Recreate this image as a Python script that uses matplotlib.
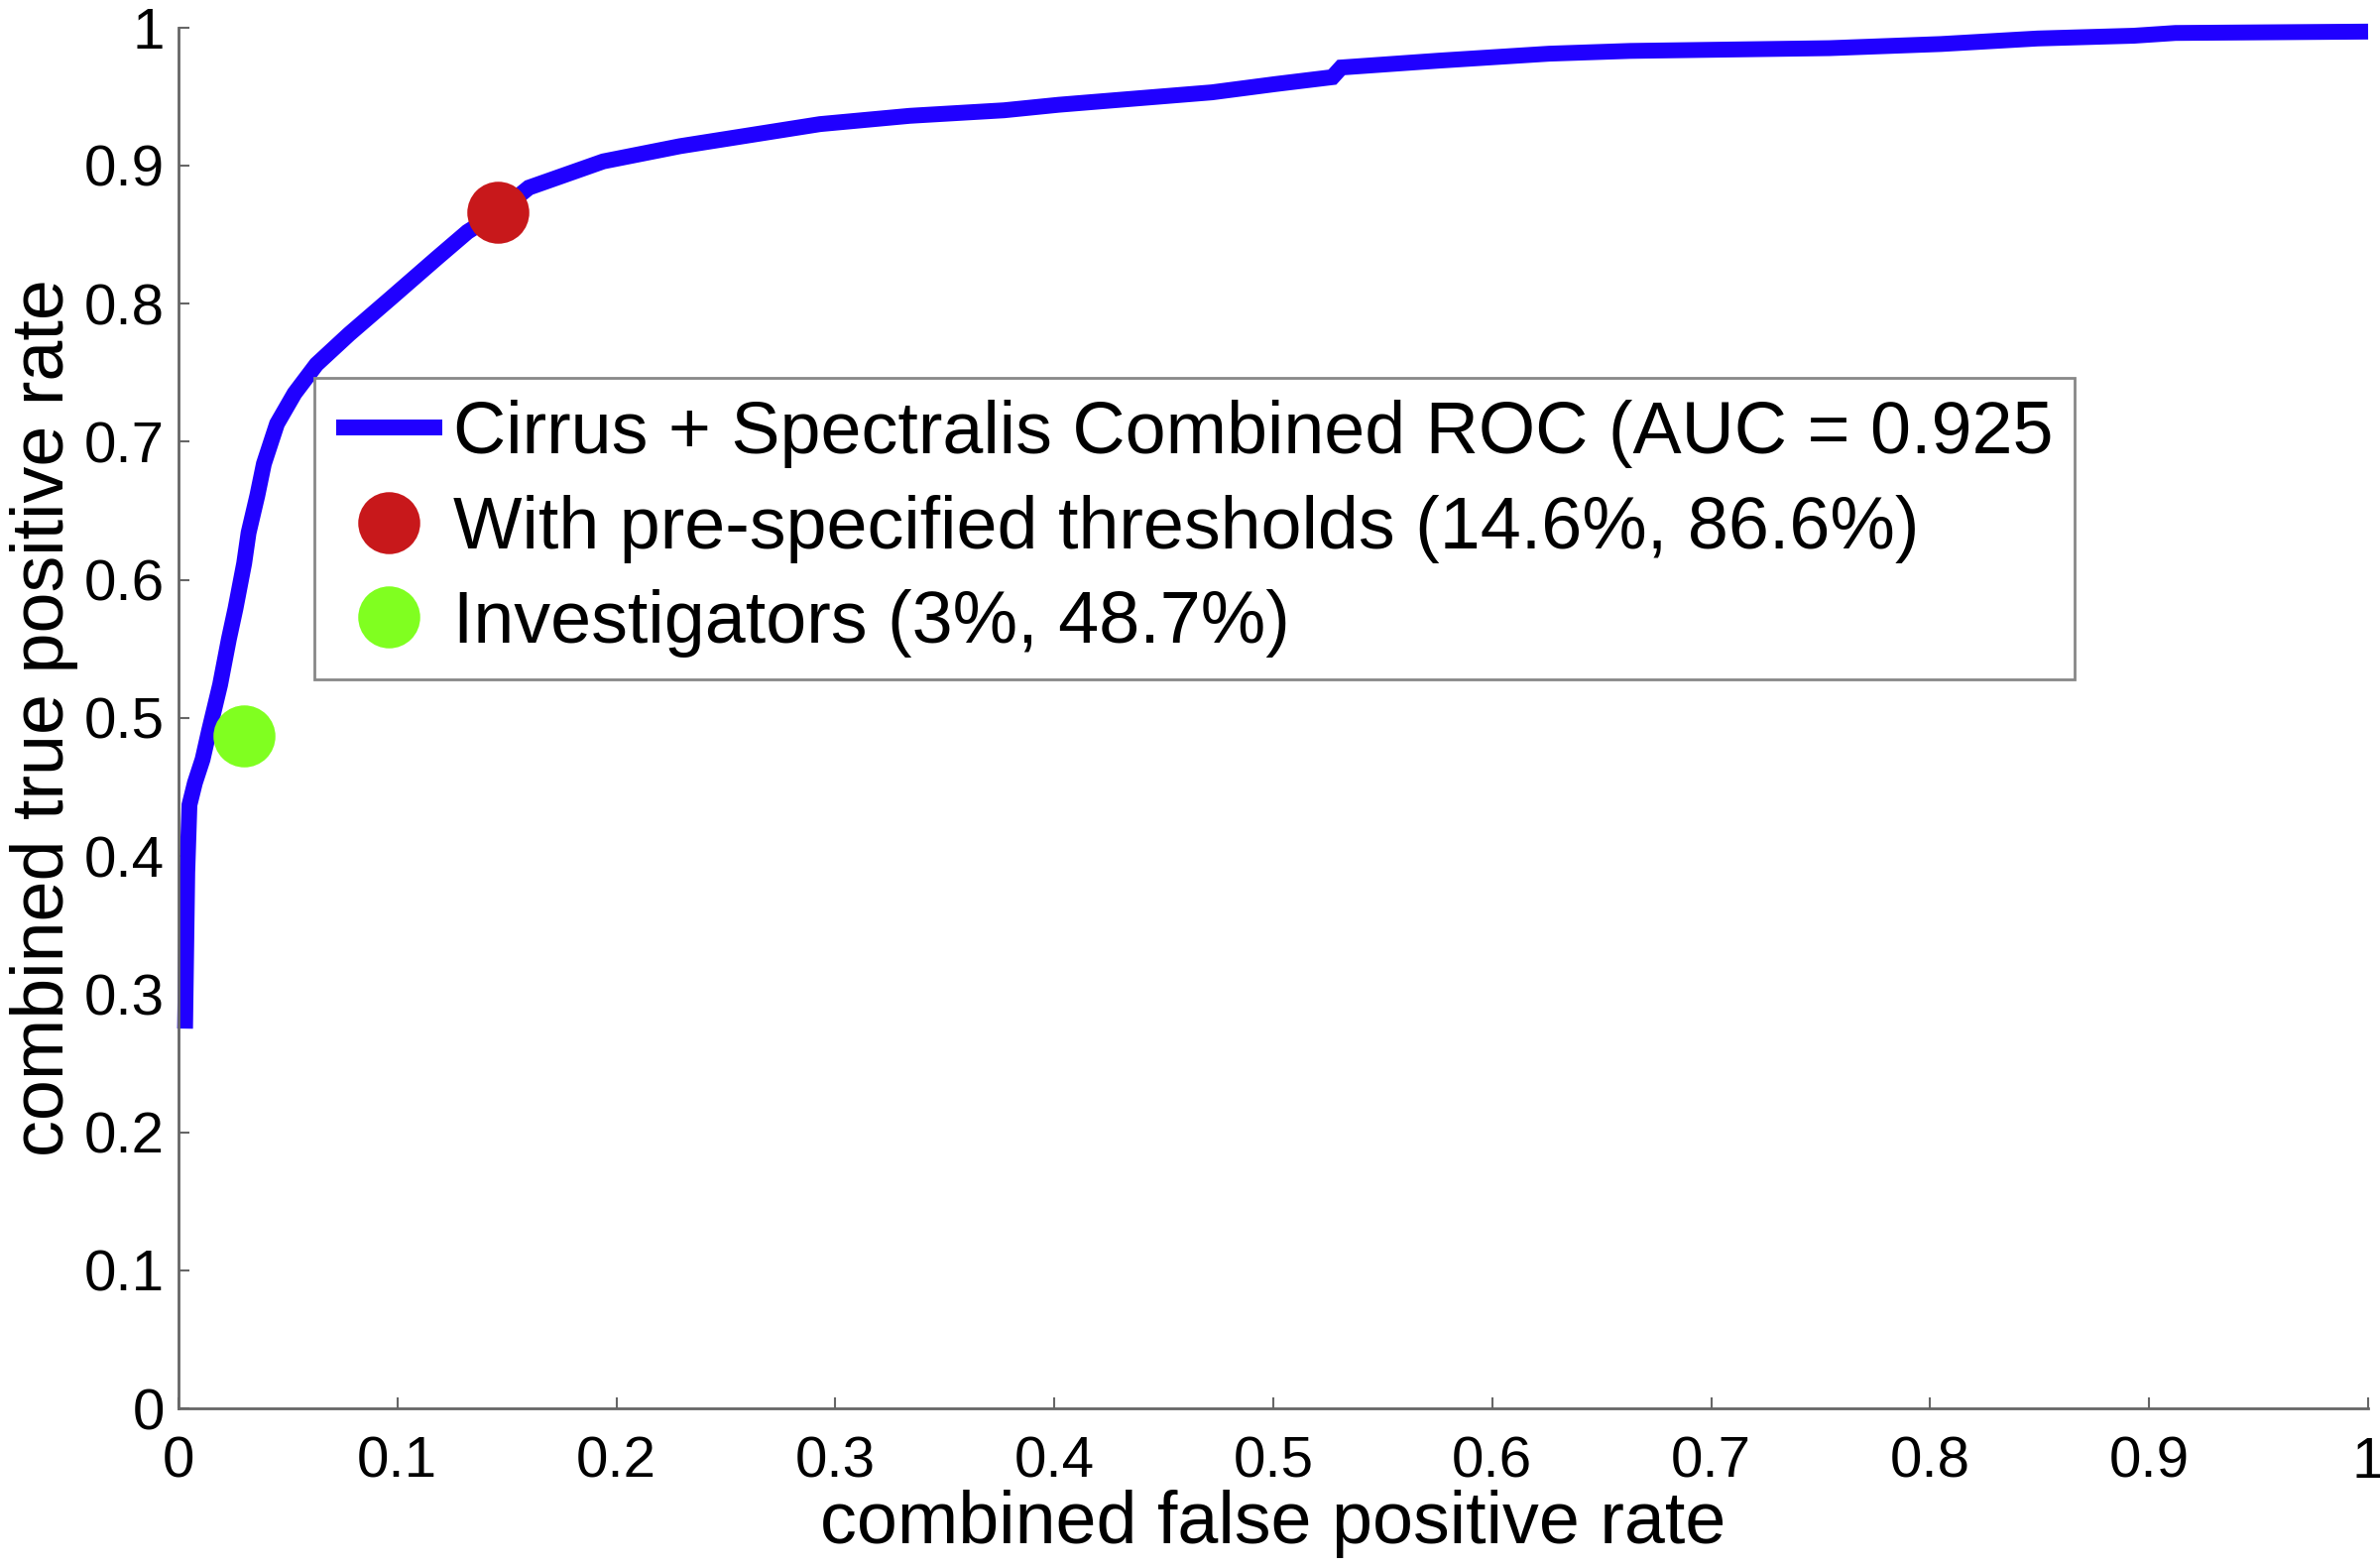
import numpy as np
import matplotlib
matplotlib.use("Agg")
import matplotlib.pyplot as plt

plt.rcParams['font.family'] = ['Liberation Sans', 'DejaVu Sans']

# ROC curve
fpr = [0.003, 0.004, 0.005, 0.0075, 0.011, 0.014, 0.019, 0.023, 0.026, 0.030,
       0.032, 0.036, 0.039, 0.045, 0.053, 0.063, 0.078, 0.097, 0.118, 0.132,
       0.146, 0.160, 0.194, 0.229, 0.265, 0.293, 0.334, 0.377, 0.402, 0.433,
       0.472, 0.501, 0.527, 0.531, 0.576, 0.626, 0.663, 0.754, 0.805, 0.849,
       0.893, 0.912, 1.0]
tpr = [0.275, 0.388, 0.437, 0.453, 0.470, 0.491, 0.524, 0.557, 0.579, 0.612,
       0.634, 0.661, 0.684, 0.713, 0.735, 0.756, 0.778, 0.804, 0.833, 0.852,
       0.866, 0.884, 0.903, 0.914, 0.923, 0.930, 0.936, 0.940, 0.944, 0.948,
       0.953, 0.959, 0.964, 0.971, 0.976, 0.981, 0.983, 0.985, 0.988, 0.992,
       0.994, 0.996, 0.997]

thresh_pt = (0.146, 0.866)
invest_pt = (0.03, 0.487)

labels = ['Cirrus + Spectralis Combined ROC (AUC = 0.925',
          'With pre-specified thresholds (14.6%, 86.6%)',
          'Investigators (3%, 48.7%)']

ticks = [0, 0.1, 0.2, 0.3, 0.4, 0.5, 0.6, 0.7, 0.8, 0.9, 1]
tick_labels = ['0', '0.1', '0.2', '0.3', '0.4', '0.5', '0.6', '0.7', '0.8', '0.9', '1']

fig = plt.figure(figsize=(24, 15.81), dpi=100, facecolor='w')
ax = fig.add_axes([0.075, 0.1018, 0.92, 0.8807])

ax.plot(fpr, tpr, color='#2000FF', lw=11.5, solid_joinstyle='miter',
        solid_capstyle='butt', clip_on=False, label=labels[0], zorder=2)
ax.plot(*thresh_pt, 'o', color='#C8181B', ms=45, mew=0, label=labels[1], zorder=3)
ax.plot(*invest_pt, 'o', color='#80FF20', ms=45, mew=0, label=labels[2], zorder=3)

ax.set_xlim(0, 1)
ax.set_ylim(0, 1)
ax.set_xticks(ticks)
ax.set_xticklabels(tick_labels)
ax.set_yticks(ticks)
ax.set_yticklabels(tick_labels)
ax.tick_params(direction='in', length=8, width=1.5, color='#666666',
               labelsize=42, pad=10)
ax.tick_params(axis='x', pad=20)
for s in ['top', 'right']:
    ax.spines[s].set_visible(False)
for s in ['left', 'bottom']:
    ax.spines[s].set_color('#666666')
    ax.spines[s].set_linewidth(2)

ax.set_xlabel('combined false positive rate', fontsize=53, labelpad=0)
ax.set_ylabel('combined true positive rate', fontsize=53, labelpad=4)

leg = ax.legend(loc='upper left', bbox_to_anchor=(0.132, 0.759),
                bbox_transform=fig.transFigure, borderaxespad=0,
                fontsize=53, frameon=True, fancybox=False,
                edgecolor='#888888', framealpha=1, handlelength=1.45,
                handletextpad=0.15, labelspacing=0.36, borderpad=0.3,
                markerscale=1.0)
leg.get_frame().set_linewidth(2)

fig.savefig('out.png', dpi=100)
